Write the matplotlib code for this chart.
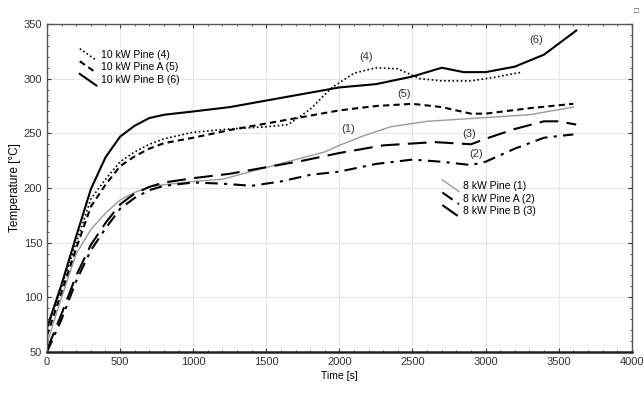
import matplotlib
matplotlib.use("Agg")
import matplotlib.pyplot as plt
from matplotlib.lines import Line2D
from matplotlib.legend_handler import HandlerLine2D
from matplotlib.ticker import MultipleLocator

plt.rcParams["font.family"] = ["Liberation Sans", "DejaVu Sans"]

# ================= DATOS =================
t1 = [0, 100, 200, 300, 400, 500, 600, 700, 800, 1000, 1200, 1450, 1700, 1900, 2000, 2150, 2350, 2600, 2950, 3300, 3600]
T1 = [58, 100, 140, 162, 177, 189, 196, 201, 203, 206, 208, 217, 226, 233, 239, 247, 256, 261, 264, 267, 274]

t2 = [0, 100, 200, 300, 400, 500, 600, 700, 800, 1000, 1200, 1400, 1600, 1800, 2000, 2250, 2500, 2700, 2900, 3000, 3200, 3400, 3600]
T2 = [50, 80, 115, 143, 163, 181, 191, 198, 202, 205, 204, 202, 206, 212, 215, 222, 226, 224, 221, 224, 236, 246, 249]

t3 = [0, 100, 200, 300, 400, 500, 600, 700, 800, 1000, 1250, 1500, 1750, 2000, 2300, 2650, 2900, 3000, 3200, 3400, 3500, 3620]
T3 = [52, 85, 120, 148, 168, 185, 195, 201, 205, 209, 213, 219, 225, 232, 239, 242, 240, 245, 254, 261, 261, 258]

t4 = [0, 100, 200, 300, 400, 500, 600, 700, 800, 900, 1000, 1250, 1500, 1650, 1800, 1950, 2100, 2250, 2400, 2550, 2700, 2900, 3050, 3250]
T4 = [70, 110, 150, 190, 208, 224, 233, 240, 245, 248, 251, 254, 256, 258, 272, 292, 305, 310, 309, 300, 298, 298, 301, 306]

t5 = [0, 100, 200, 300, 400, 500, 600, 700, 800, 1000, 1250, 1500, 1750, 2000, 2250, 2500, 2700, 2900, 3000, 3300, 3600]
T5 = [65, 105, 145, 183, 203, 220, 229, 236, 241, 246, 253, 259, 265, 271, 275, 277, 274, 268, 268, 273, 277]

t6 = [0, 100, 200, 300, 400, 500, 600, 700, 800, 1000, 1250, 1500, 1750, 2000, 2250, 2500, 2700, 2850, 3000, 3200, 3400, 3620]
T6 = [72, 112, 156, 199, 228, 247, 257, 264, 267, 270, 274, 280, 286, 292, 295, 302, 310, 306, 306, 311, 322, 344]

etiquetas = ["(1)", "(2)", "(3)", "(4)", "(5)", "(6)"]
pos_etiquetas = [(2060, 254), (2935, 231), (2885, 249), (2180, 320), (2440, 286), (3345, 335)]


class HandlerDiagonal(HandlerLine2D):
    """Dibuja el símbolo de la leyenda como un trazo inclinado."""
    def create_artists(self, legend, orig_handle, xdescent, ydescent,
                       width, height, fontsize, trans):
        linea = Line2D([-xdescent, width - xdescent],
                       [height * 1.25 - ydescent, -height * 0.35 - ydescent])
        self.update_prop(linea, orig_handle, legend)
        linea.set_transform(trans)
        return [linea]


fig = plt.figure(figsize=(6.44, 3.97), dpi=100)
ax = fig.add_axes([0.073, 0.1134, 0.908, 0.8261])

l1, = ax.plot(t1, T1, color="#9a9a9a", lw=1.0, linestyle="-", label="8 kW Pine (1)")
l2, = ax.plot(t2, T2, color="black", lw=1.5, linestyle=(0, (6, 3, 1.5, 3)), label="8 kW Pine A (2)")
l3, = ax.plot(t3, T3, color="black", lw=1.5, linestyle=(0, (9, 4)), label="8 kW Pine B (3)")
l4, = ax.plot(t4, T4, color="black", lw=1.2, linestyle=(0, (1, 1.5)), label="10 kW Pine (4)")
l5, = ax.plot(t5, T5, color="black", lw=1.5, linestyle=(0, (3, 2)), label="10 kW Pine A (5)")
l6, = ax.plot(t6, T6, color="black", lw=1.5, linestyle="-", label="10 kW Pine B (6)")

for texto, (x, y) in zip(etiquetas, pos_etiquetas):
    ax.text(x, y, texto, fontsize=8, ha="center", va="center", color="#333333")

ax.set_xlim(0, 4000)
ax.set_ylim(50, 350)
ax.xaxis.set_major_locator(MultipleLocator(500))
ax.yaxis.set_major_locator(MultipleLocator(50))
ax.yaxis.set_minor_locator(MultipleLocator(10))
ax.xaxis.set_minor_locator(MultipleLocator(100))
ax.tick_params(which="both", direction="in", top=True, right=True, labelsize=8, colors="#333333")
ax.tick_params(which="major", length=3)
ax.tick_params(which="minor", length=1.5)
ax.grid(True, color="#e6e6e6", lw=0.8)
for s in ax.spines.values():
    s.set_color("#555555")
    s.set_linewidth(1.0)
ax.spines["bottom"].set_linewidth(1.8)
ax.spines["bottom"].set_color("#222222")

ax.set_xlabel("Time [s]", fontsize=7.5, labelpad=3)
ax.set_ylabel("Temperature [°C]", fontsize=8.5, labelpad=2)

handler = {h: HandlerDiagonal() for h in [l1, l2, l3, l4, l5, l6]}
leg1 = ax.legend(handles=[l4, l5, l6], loc="upper left", bbox_to_anchor=(0.04, 0.95),
                 frameon=False, fontsize=7.5, handlelength=1.6, handletextpad=0.4,
                 labelspacing=0.25, handler_map=handler)
ax.add_artist(leg1)
ax.legend(handles=[l1, l2, l3], loc="upper left", bbox_to_anchor=(0.66, 0.55),
          frameon=False, fontsize=7.5, handlelength=1.6, handletextpad=0.4,
          labelspacing=0.25, handler_map=handler)

fig.text(0.989, 0.972, "□", fontsize=6, ha="center", va="center", color="#444444")

plt.savefig("out.png", dpi=100)
plt.close()
